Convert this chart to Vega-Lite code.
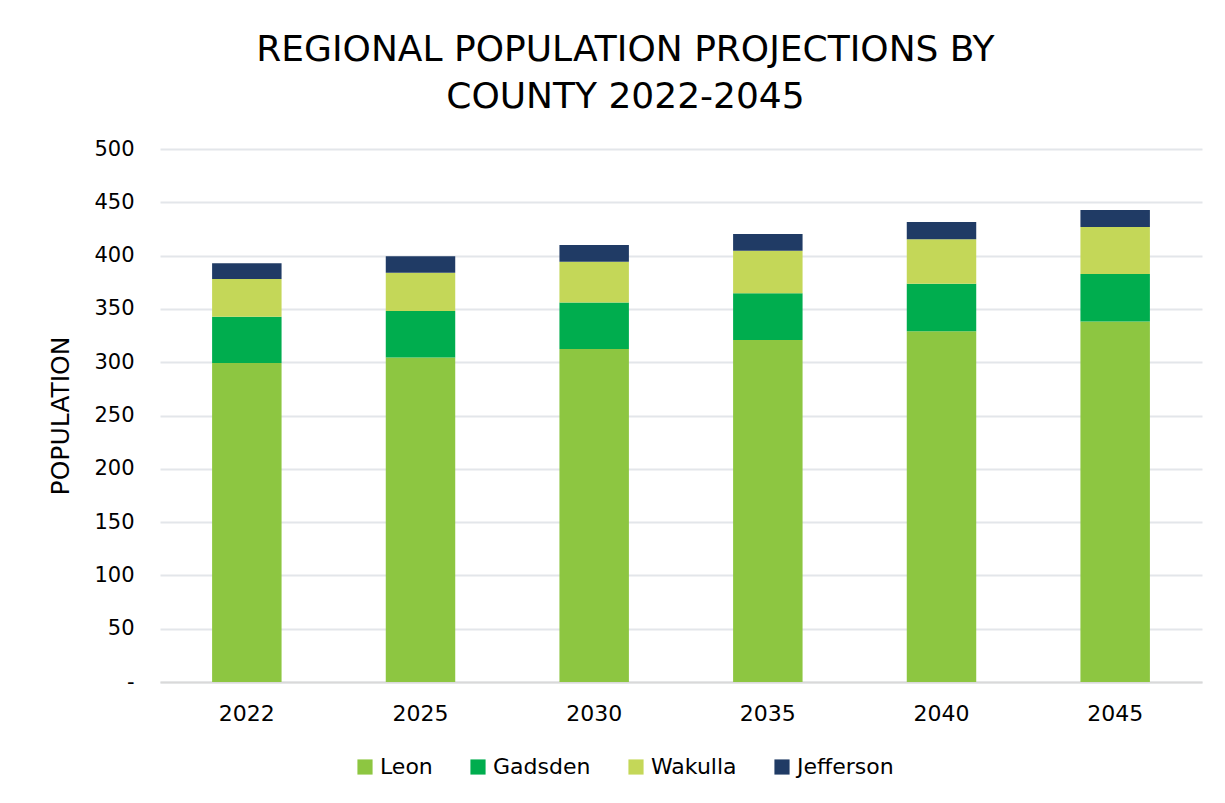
{
  "$schema": "https://vega.github.io/schema/vega-lite/v6.json",
  "width": 1042,
  "height": 533,
  "padding": {"left": 48, "right": 22, "top": 32, "bottom": 10},
  "background": "white",
  "title": {
    "text": ["REGIONAL POPULATION PROJECTIONS BY", "COUNTY 2022-2045"],
    "font": "DejaVu Sans",
    "fontSize": 36,
    "fontWeight": "normal",
    "color": "#000000",
    "lineHeight": 47,
    "anchor": "middle",
    "frame": "bounds",
    "offset": 22
  },
  "data": {
    "values": [
      {"year": "2022", "county": "Leon", "population": 299.3},
      {"year": "2022", "county": "Gadsden", "population": 43.4},
      {"year": "2022", "county": "Wakulla", "population": 35.4},
      {"year": "2022", "county": "Jefferson", "population": 14.7},
      {"year": "2025", "county": "Leon", "population": 304.3},
      {"year": "2025", "county": "Gadsden", "population": 43.8},
      {"year": "2025", "county": "Wakulla", "population": 35.9},
      {"year": "2025", "county": "Jefferson", "population": 15.3},
      {"year": "2030", "county": "Leon", "population": 312.5},
      {"year": "2030", "county": "Gadsden", "population": 43.4},
      {"year": "2030", "county": "Wakulla", "population": 38.4},
      {"year": "2030", "county": "Jefferson", "population": 15.6},
      {"year": "2035", "county": "Leon", "population": 320.9},
      {"year": "2035", "county": "Gadsden", "population": 43.8},
      {"year": "2035", "county": "Wakulla", "population": 39.9},
      {"year": "2035", "county": "Jefferson", "population": 15.6},
      {"year": "2040", "county": "Leon", "population": 329.1},
      {"year": "2040", "county": "Gadsden", "population": 44.6},
      {"year": "2040", "county": "Wakulla", "population": 41.6},
      {"year": "2040", "county": "Jefferson", "population": 16.2},
      {"year": "2045", "county": "Leon", "population": 338.1},
      {"year": "2045", "county": "Gadsden", "population": 44.7},
      {"year": "2045", "county": "Wakulla", "population": 44.0},
      {"year": "2045", "county": "Jefferson", "population": 16.0}
    ]
  },
  "transform": [
    {"calculate": "indexof(['Leon','Gadsden','Wakulla','Jefferson'], datum.county)", "as": "stackOrder"}
  ],
  "mark": {"type": "bar"},
  "encoding": {
    "x": {
      "field": "year",
      "type": "nominal",
      "title": null,
      "scale": {"paddingInner": 0.6, "paddingOuter": 0.3},
      "axis": {
        "labelAngle": 0,
        "labelFont": "DejaVu Sans",
        "labelFontSize": 22,
        "labelColor": "#000000",
        "labelPadding": 21,
        "domain": true,
        "domainColor": "#D9D9D9",
        "domainWidth": 2,
        "ticks": false
      }
    },
    "y": {
      "field": "population",
      "type": "quantitative",
      "aggregate": "sum",
      "stack": "zero",
      "title": "POPULATION",
      "scale": {"domain": [0, 500]},
      "axis": {
        "values": [0, 50, 100, 150, 200, 250, 300, 350, 400, 450, 500],
        "labelExpr": "datum.value == 0 ? '-' : datum.label",
        "labelFont": "DejaVu Sans",
        "labelFontSize": 21,
        "labelColor": "#000000",
        "labelPadding": 26,
        "titleFont": "DejaVu Sans",
        "titleFontSize": 25,
        "titleFontWeight": "normal",
        "titleColor": "#000000",
        "titlePadding": 20,
        "domain": false,
        "ticks": false,
        "grid": true,
        "gridColor": "#E3E6EA",
        "gridWidth": 2
      }
    },
    "color": {
      "field": "county",
      "type": "nominal",
      "scale": {
        "domain": ["Leon", "Gadsden", "Wakulla", "Jefferson"],
        "range": ["#8DC641", "#00AD4E", "#C4D758", "#203B65"]
      },
      "legend": {
        "orient": "none",
        "legendX": 194,
        "legendY": 607,
        "direction": "horizontal",
        "title": null,
        "symbolType": "square",
        "symbolSize": 230,
        "symbolStrokeWidth": 0,
        "labelFont": "DejaVu Sans",
        "labelFontSize": 22,
        "labelColor": "#000000",
        "columnPadding": 34
      }
    },
    "order": {"field": "stackOrder", "type": "quantitative"}
  },
  "config": {
    "view": {"stroke": null}
  }
}
